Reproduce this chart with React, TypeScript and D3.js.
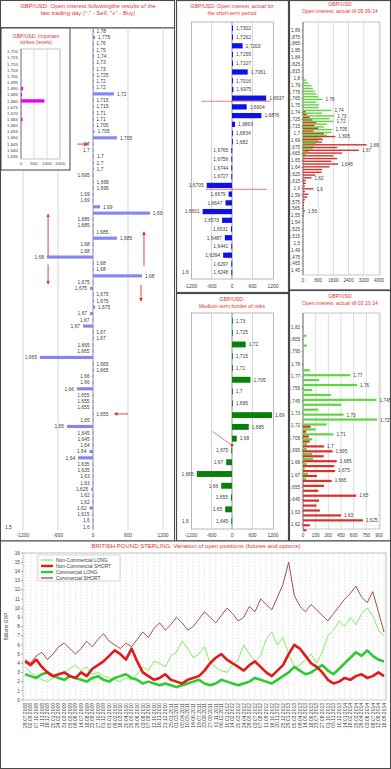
import React from 'react';
import * as d3 from 'd3';

const FONT = "'Liberation Sans', Arial, sans-serif";
const TITLE_RED = '#e2352e';
const TXT = '#3c3c3c';
const GRID = '#cdcdcd';
const FRAME = '#4a4a4a';

// ---------------- Left panel: open interest after last trading day ----------------
const leftLabels = ['1,78','1,775','1,76','1,75','1,74','1,73','1,73','1,725','1,72','1,72','1,72','1,715','1,715','1,71','1,71','1,705','1,705','1,705','1,7','1,7','1,7','1,7','1,7','1,695','1,695','1,695','1,69','1,69','1,69','1,69','1,685','1,685','1,685','1,685','1,68','1,68','1,68','1,68','1,68','1,68','1,675','1,675','1,675','1,675','1,675','1,67','1,67','1,67','1,67','1,67','1,665','1,665','1,665','1,665','1,665','1,66','1,66','1,66','1,655','1,655','1,655','1,655','1,65','1,65','1,645','1,645','1,64','1,64','1,64','1,635','1,635','1,63','1,63','1,625','1,62','1,62','1,62','1,615','1,6','1,6'];
const leftValues = [8,35,5,5,15,5,5,5,5,5,360,5,5,5,5,5,25,410,-5,-5,15,10,10,-5,10,10,-5,-5,120,977,-5,-5,5,410,-5,-5,-790,5,5,840,-5,-50,5,5,35,-50,-10,-170,5,5,-5,-10,-910,5,5,-5,-5,-275,-10,-10,-10,5,-5,-445,-5,-5,-5,-60,-255,-10,-5,-5,-5,-30,-5,-5,-60,-10,-5,-5];
const leftTicks = [-1200, -600, 0, 600, 1200];
const leftAxisLabel = '1,5';

// inset: important strikes
const insetLabels = ['1,720','1,715','1,710','1,705','1,700','1,695','1,690','1,685','1,680','1,675','1,670','1,665','1,660','1,655','1,650','1,645','1,640','1,635'];
const insetValues = [0,0,0,0,0,0,80,40,900,15,15,60,0,0,0,0,0,0];
const insetTicks = [0, 500, 1000, 1500];

// ---------------- Middle top: short-term period ----------------
const midTopLabels = ['1,7302','1,7262','1,7203','1,7155','1,7107','1,7061','1,7016','1,6975','1,6937','1,6904','1,6876','1,6863','1,6834','1,682','1,6765','1,6756','1,6744','1,6727','1,6705','1,6679','1,6647','1,6601','1,6573','1,6531','1,6487','1,6441','1,6394','1,6297','1,6248'];
const midTopValues = [30,30,310,30,30,460,30,40,1000,430,860,90,20,20,-20,-20,-20,-20,-740,-100,-190,-860,-290,-30,-210,-20,-260,-20,-20];
const midTicks = [-1200, -600, 0, 600, 1200];

// ---------------- Middle bottom: medium-term border of risks ----------------
const midBotLabels = ['1,73','1,725','1,72','1,715','1,71','1,705','1,7','1,695','1,69','1,685','1,68','1,675','1,67','1,665','1,66','1,655','1,65','1,645'];
const midBotValues = [20,20,400,20,20,540,20,20,1170,490,140,-20,-170,-1030,-315,-30,-200,-20];

// ---------------- Right top: open interest till 05.09.14 ----------------
const rtPrices = [1.800,1.795,1.790,1.785,1.780,1.775,1.770,1.765,1.760,1.755,1.750,1.745,1.740,1.735,1.730,1.725,1.720,1.715,1.710,1.705,1.700,1.695,1.690,1.685,1.680,1.675,1.670,1.665,1.660,1.655,1.650,1.645,1.640,1.635,1.630,1.625,1.620,1.615,1.610,1.605,1.600,1.595,1.590,1.585,1.580,1.575,1.570,1.565,1.560,1.555,1.550];
const rtCalls = [60,180,270,450,530,620,700,800,1030,700,850,800,1500,1000,1650,1400,1600,1250,1100,1550,1500,1250,950,800,700,600,500,300,150,80,50,30,0,0,0,0,0,0,0,0,0,0,0,0,0,0,0,0,0,0,0];
const rtPuts = [0,0,0,0,0,0,0,0,0,0,0,0,150,200,350,500,700,600,800,550,1100,1700,1050,1000,3350,1800,2950,2050,1600,1800,1500,1850,1400,1000,980,650,450,150,150,100,550,100,280,220,100,60,50,40,100,30,30];
const rtLabeledCalls = [1.76, 1.74, 1.73, 1.72, 1.705];
const rtLabeledPuts = [1.695, 1.68, 1.67, 1.645, 1.62, 1.6, 1.56];
const rtTickValues = [1.8875,1.875,1.8625,1.85,1.8375,1.825,1.8125,1.8,1.7875,1.775,1.7625,1.75,1.7375,1.725,1.7125,1.7,1.6875,1.675,1.6625,1.65,1.6375,1.625,1.6125,1.6,1.5875,1.575,1.5625,1.55,1.5375,1.525,1.5125,1.5,1.4875,1.475,1.4625,1.45];
const rtTickLabels = ['1,89','1,875','1,865','1,85','1,84','1,825','1,815','1,8','1,79','1,775','1,765','1,75','1,74','1,725','1,715','1,7','1,69','1,675','1,665','1,65','1,64','1,625','1,615','1,6','1,59','1,575','1,565','1,55','1,54','1,525','1,515','1,5','1,49','1,475','1,465','1,45'];
const rtXTicks = [0, 800, 1600, 2400, 3200, 4000];

// ---------------- Right bottom: open interest till 03.10.14 ----------------
const rbPrices = [1.825,1.820,1.815,1.810,1.805,1.800,1.795,1.790,1.785,1.780,1.775,1.770,1.765,1.760,1.755,1.750,1.745,1.740,1.735,1.730,1.725,1.720,1.715,1.710,1.705,1.700,1.695,1.690,1.685,1.680,1.675,1.670,1.665,1.660,1.655,1.650,1.645,1.640,1.635,1.630,1.625,1.620,1.615];
const rbCalls = [0,0,0,40,0,45,0,10,0,10,80,560,190,640,110,330,870,450,180,480,880,280,150,360,110,50,45,110,120,45,20,60,40,10,0,0,0,0,0,0,0,0,0];
const rbPuts = [0,0,0,0,0,0,0,0,0,0,0,0,0,0,0,0,0,0,0,0,0,90,40,68,80,250,350,245,400,370,380,165,340,250,180,630,190,160,200,450,710,80,40];
const rbLabeledCalls = [1.77, 1.76, 1.745, 1.73, 1.725, 1.71];
const rbLabeledPuts = [1.7, 1.695, 1.685, 1.675, 1.665, 1.65, 1.63, 1.625];
const rbTickValues = [1.82,1.8075,1.795,1.7825,1.77,1.7575,1.745,1.7325,1.72,1.7075,1.695,1.6825,1.67,1.6575,1.645,1.6325,1.62];
const rbTickLabels = ['1,82','1,805','1,795','1,78','1,77','1,755','1,745','1,73','1,72','1,705','1,695','1,68','1,67','1,655','1,645','1,63','1,62'];
const rbXTicks = [0, 150, 300, 450, 600, 750, 900];

// ---------------- Bottom: COT positions ----------------
const cotDates = ['29.07.2008','02.09.2008','07.10.2008','11.11.2008','16.12.2008','20.01.2009','24.02.2009','31.03.2009','05.05.2009','09.06.2009','14.07.2009','18.08.2009','22.09.2009','27.10.2009','01.12.2009','05.01.2010','09.02.2010','16.03.2010','20.04.2010','25.05.2010','29.06.2010','03.08.2010','07.09.2010','12.10.2010','16.11.2010','21.12.2010','25.01.2011','01.03.2011','05.04.2011','10.05.2011','14.06.2011','19.07.2011','23.08.2011','27.09.2011','01.11.2011','06.12.2011','10.01.2012','14.02.2012','20.03.2012','24.04.2012','29.05.2012','03.07.2012','07.08.2012','11.09.2012','16.10.2012','20.11.2012','25.12.2012','29.01.2013','05.03.2013','09.04.2013','14.05.2013','18.06.2013','23.07.2013','27.08.2013','01.10.2013','05.11.2013','10.12.2013','14.01.2014','18.02.2014','25.03.2014','29.04.2014','03.06.2014','08.07.2014','12.08.2014','16.09.2014'];
const ncLong = [3.6,3.0,2.6,2.2,2.0,2.4,2.8,3.0,3.4,3.8,3.2,3.6,2.8,3.0,2.6,2.4,2.2,2.0,2.4,2.2,2.8,3.6,3.2,4.2,4.0,3.6,4.8,5.2,6.4,5.6,4.6,5.0,5.8,4.0,3.6,3.2,3.0,3.8,4.4,6.0,5.0,4.2,4.8,6.6,7.4,6.0,6.8,5.0,3.6,3.8,4.4,5.0,4.0,5.2,7.0,7.6,8.6,8.0,9.0,8.2,9.4,10.0,9.2,7.6,7.0];
const ncShort = [4.2,3.8,4.4,3.6,3.0,2.6,2.8,3.0,2.6,2.4,3.0,2.6,3.4,3.8,4.2,4.8,5.4,5.0,4.4,5.6,4.2,3.0,2.6,2.2,2.4,2.8,2.2,2.0,1.8,2.2,2.4,2.6,3.2,4.0,4.6,5.0,4.4,4.0,3.6,3.2,3.8,4.2,3.6,3.0,2.6,3.2,3.8,5.0,6.0,5.6,4.8,4.0,3.6,3.0,2.2,1.8,2.0,2.4,2.2,2.6,2.8,2.4,2.6,3.0,2.6];
const cLong = [2.8,2.6,2.4,2.8,3.0,2.6,2.4,2.2,2.6,2.4,2.2,2.0,2.4,2.6,2.2,2.0,2.4,2.6,2.8,2.4,2.2,1.8,2.0,1.8,1.6,1.8,1.6,1.4,1.6,1.8,2.0,2.2,1.8,1.6,1.8,2.2,2.0,1.8,1.6,1.8,2.0,2.4,2.2,2.0,1.8,2.2,2.6,3.0,3.6,3.2,2.8,3.0,3.4,3.8,3.2,2.8,3.4,4.0,4.6,5.2,4.8,5.4,4.8,4.4,4.2];
const cShort = [4.4,4.0,4.8,5.2,4.4,5.0,5.8,6.2,5.6,5.0,5.6,6.4,5.8,6.6,7.2,6.4,6.0,5.6,6.2,5.8,6.6,7.4,6.8,7.8,8.4,7.6,8.2,9.0,8.4,7.6,8.0,8.8,9.6,9.0,8.4,9.2,10.0,9.4,8.6,9.0,10.2,9.6,11.0,10.4,9.8,11.2,12.6,15.0,11.4,10.2,9.6,10.4,9.8,9.2,8.6,9.4,10.2,11.0,11.6,12.4,11.2,10.6,11.8,9.6,7.4];
const cotYTicks = [0,1,2,3,4,5,6,7,8,9,10,11,12,13,14,15,16];
const cotSeriesNames = ['Non-Commercial LONG','Non-Commercial SHORT','Commercial LONG','Commercial SHORT'];

const PANEL_BOTTOM = 541;

const fmtPrice = (p: number) => String(+p.toFixed(4)).replace('.', ',');

function Defs() {
  return (
    <defs>
      <marker id="arrRed" viewBox="0 0 6 6" refX="5" refY="3" markerWidth="4" markerHeight="4" orient="auto">
        <path d="M0,0 L6,3 L0,6 z" fill="#d8322c" />
      </marker>
      <clipPath id="clipMid"><rect x={177} y={0} width={111} height={PANEL_BOTTOM} /></clipPath>
      <clipPath id="clipRight"><rect x={290.5} y={0} width={101} height={PANEL_BOTTOM} /></clipPath>
    </defs>
  );
}

function LeftPanel() {
  const top = 28, bottom = 530;
  const x = d3.scaleLinear().domain([-1200, 1200]).range([23, 163]);
  const y = d3.scaleBand<number>().domain(d3.range(leftLabels.length)).range([top, bottom]).paddingInner(0.5).paddingOuter(0.25);
  const bw = y.bandwidth();
  const cy = (i: number) => (y(i) as number) + bw / 2;
  const step = y.step();
  const rowY = (r: number) => cy(0) + r * step;
  const arrows = [
    { v1: -770, r1: 35.8, v2: -770, r2: 29.2 },
    { v1: -770, r1: 37.2, v2: -770, r2: 40.3 },
    { v1: 874, r1: 37.4, v2: 874, r2: 32.0 },
    { v1: 823, r1: 40.4, v2: 823, r2: 43.0 },
    { v1: -270, r1: 18, v2: -80, r2: 18 },
    { v1: 600, r1: 61, v2: 370, r2: 61 },
  ];
  return (
    <g>
      <rect x={0.5} y={0.5} width={174} height={27.5} fill="#fff" stroke={FRAME} />
      <rect x={0.5} y={28} width={174} height={PANEL_BOTTOM - 28} fill="#fff" stroke={FRAME} />
      <text x={88} y={8} textAnchor="middle" fontSize={6} fill={TITLE_RED}>GBP/USD: Open interest followingthe results of the</text>
      <text x={88} y={15} textAnchor="middle" fontSize={6} fill={TITLE_RED}>last trading day ("-" - Sell; "+" - Buy)</text>
      {leftTicks.filter(t => t !== 0).map(t => (
        <line key={t} x1={x(t)} x2={x(t)} y1={top} y2={bottom} stroke={GRID} strokeWidth={0.8} />
      ))}
      <line x1={x(0)} x2={x(0)} y1={top} y2={bottom} stroke="#7a7a7a" strokeWidth={0.8} />
      {leftValues.map((v, i) => (
        <rect key={i} x={Math.min(x(0), x(v))} y={y(i)} width={Math.max(0.8, Math.abs(x(v) - x(0)))} height={bw} fill="#8585f5" />
      ))}
      {leftLabels.map((l, i) => {
        const v = leftValues[i];
        const pos = v >= 0;
        return (
          <text key={i} x={pos ? x(v) + 3 : x(v) - 3} y={cy(i) + 1.8} fontSize={4.9} fill={TXT} textAnchor={pos ? 'start' : 'end'}>{l}</text>
        );
      })}
      <text x={5} y={cy(leftLabels.length - 1) + 1.8} fontSize={4.9} fill={TXT}>{leftAxisLabel}</text>
      {leftTicks.map(t => (
        <text key={t} x={x(t)} y={536.5} textAnchor="middle" fontSize={4.9} fill={TXT}>{t}</text>
      ))}
      {arrows.map((a, i) => (
        <line key={i} x1={x(a.v1)} y1={rowY(a.r1)} x2={x(a.v2)} y2={rowY(a.r2)} stroke="#d8322c" strokeWidth={0.9} markerEnd="url(#arrRed)" />
      ))}
    </g>
  );
}

function Inset() {
  const x = d3.scaleLinear().domain([0, 1500]).range([21, 60]);
  const y = d3.scaleBand<number>().domain(d3.range(insetLabels.length)).range([50, 158]).paddingInner(0.45);
  const bw = y.bandwidth();
  return (
    <g>
      <rect x={1} y={28} width={69} height={142} fill="#fff" stroke="#333" strokeWidth={0.9} />
      <text x={36} y={37.5} textAnchor="middle" fontSize={5} fill={TITLE_RED}>GBP/USD: Important</text>
      <text x={36} y={43.5} textAnchor="middle" fontSize={5} fill={TITLE_RED}>strikes (levels)</text>
      <rect x={21} y={49} width={39} height={110} fill="none" stroke="#999" strokeWidth={0.6} />
      {insetTicks.slice(1).map(t => (
        <line key={t} x1={x(t)} x2={x(t)} y1={49} y2={159} stroke={GRID} strokeWidth={0.7} />
      ))}
      <line x1={x(0)} x2={x(0)} y1={49} y2={159} stroke="#666" strokeWidth={0.7} />
      {insetValues.map((v, i) => (
        v > 0 ? <rect key={i} x={x(0)} y={y(i)} width={x(v) - x(0)} height={bw} fill="#f000f0" /> : null
      ))}
      {insetLabels.map((l, i) => (
        <text key={i} x={18} y={(y(i) as number) + bw / 2 + 1.6} fontSize={4.4} fill={TXT} textAnchor="end">{l}</text>
      ))}
      {insetTicks.map(t => (
        <text key={t} x={x(t)} y={165} fontSize={4.4} fill={TXT} textAnchor="middle">{t}</text>
      ))}
    </g>
  );
}

function HBarPanel(props: { labels: string[]; values: number[]; top: number; bottom: number; color: string; tickY: number; axisLabel: string; pad: number }) {
  const { labels, values, top, bottom, color, tickY, axisLabel, pad } = props;
  const x = d3.scaleLinear().domain([-1200, 1200]).range([191, 273]);
  const y = d3.scaleBand<number>().domain(d3.range(labels.length)).range([top + 2, bottom - 2]).paddingInner(pad).paddingOuter(pad / 2);
  const bw = y.bandwidth();
  const cy = (i: number) => (y(i) as number) + bw / 2;
  return (
    <g>
      <rect x={191.5} y={top} width={82} height={bottom - top} fill="none" stroke="#9a9a9a" strokeWidth={0.7} />
      {midTicks.filter(t => Math.abs(t) === 600).map(t => (
        <line key={t} x1={x(t)} x2={x(t)} y1={top} y2={bottom} stroke={GRID} strokeWidth={0.8} />
      ))}
      <line x1={x(0)} x2={x(0)} y1={top} y2={bottom} stroke="#777" strokeWidth={0.8} />
      {values.map((v, i) => (
        <rect key={i} x={Math.min(x(0), x(v))} y={y(i)} width={Math.max(0.9, Math.abs(x(v) - x(0)))} height={bw} fill={color} />
      ))}
      <g clipPath="url(#clipMid)">
        {labels.map((l, i) => {
          const v = values[i];
          const pos = v >= 0;
          return <text key={i} x={pos ? x(v) + 3 : x(v) - 3} y={cy(i) + 1.8} fontSize={4.9} fill={TXT} textAnchor={pos ? 'start' : 'end'}>{l}</text>;
        })}
      </g>
      <text x={182} y={cy(labels.length - 1) + 1.8} fontSize={4.9} fill={TXT}>{axisLabel}</text>
      {midTicks.map(t => (
        <text key={t} x={x(t)} y={tickY} textAnchor="middle" fontSize={4.9} fill={TXT}>{t}</text>
      ))}
    </g>
  );
}

function MiddleColumn() {
  const xs = d3.scaleLinear().domain([-1200, 1200]).range([191, 273]);
  const yTop = d3.scaleLinear().domain([0, midTopLabels.length - 1]).range([28.4, 272.6]);
  const yBot = d3.scaleLinear().domain([0, midBotLabels.length - 1]).range([320.5, 523.5]);
  return (
    <g>
      <rect x={176.5} y={0.5} width={112} height={292} fill="#fff" stroke={FRAME} strokeWidth={1.2} />
      <rect x={176.5} y={293.5} width={112} height={PANEL_BOTTOM - 293.5} fill="#fff" stroke={FRAME} strokeWidth={1.2} />
      <text x={232} y={8} textAnchor="middle" fontSize={5.3} fill={TITLE_RED}>GBP/USD: Open interest, actual for</text>
      <text x={232} y={14.5} textAnchor="middle" fontSize={5.3} fill={TITLE_RED}>the short-term period</text>
      <HBarPanel labels={midTopLabels} values={midTopValues} top={22} bottom={279} color="#1010e8" tickY={288} axisLabel="1,6" pad={0.4} />
      <text x={232} y={301} textAnchor="middle" fontSize={5.3} fill={TITLE_RED}>GBP/USD:</text>
      <text x={232} y={307.5} textAnchor="middle" fontSize={5.3} fill={TITLE_RED}>Medium-term border of risks</text>
      <HBarPanel labels={midBotLabels} values={midBotValues} top={313} bottom={529} color="#0a800a" tickY={536.5} axisLabel="1,6" pad={0.5} />
      <line x1={xs(-900)} x2={xs(1130)} y1={yTop(8.35)} y2={yTop(8.35)} stroke="#d8605a" strokeWidth={0.8} />
      <line x1={xs(-760)} x2={xs(1020)} y1={yTop(18.45)} y2={yTop(18.45)} stroke="#d8605a" strokeWidth={0.8} />
      <line x1={xs(-570)} x2={xs(0)} y1={yBot(9.3)} y2={yBot(10.45)} stroke="#d8605a" strokeWidth={0.8} />
      <circle cx={xs(0)} cy={yBot(10.45)} r={1.3} fill="#e02020" />
    </g>
  );
}

function OIPanel(props: { prices: number[]; calls: number[]; puts: number[]; labeledCalls: number[]; labeledPuts: number[]; tickValues: number[]; tickLabels: string[]; xTicks: number[]; xMax: number; yDomain: [number, number]; yRange: [number, number]; plotTop: number; plotBottom: number; xTickY: number; barH: number; title2: string; titleY: number; frameTop: number; frameH: number }) {
  const p = props;
  const x = d3.scaleLinear().domain([0, p.xMax]).range([303, 379]);
  const y = d3.scaleLinear().domain(p.yDomain).range(p.yRange);
  const green = '#5fd63f';
  const red = '#d8302a';
  const hb = p.barH;
  return (
    <g>
      <rect x={289.5} y={p.frameTop} width={101} height={p.frameH} fill="#fff" stroke={FRAME} strokeWidth={1.2} />
      <text x={340} y={p.titleY} textAnchor="middle" fontSize={5.2} fill={TITLE_RED}>GBP/USD</text>
      <text x={340} y={p.titleY + 6.5} textAnchor="middle" fontSize={5.2} fill={TITLE_RED}>{p.title2}</text>
      <rect x={303} y={p.plotTop} width={77} height={p.plotBottom - p.plotTop} fill="none" stroke="#a0a0a0" strokeWidth={0.6} />
      {p.xTicks.slice(1).map(t => (
        <line key={t} x1={x(t)} x2={x(t)} y1={p.plotTop} y2={p.plotBottom} stroke={GRID} strokeWidth={0.7} />
      ))}
      <line x1={x(0)} x2={x(0)} y1={p.plotTop} y2={p.plotBottom} stroke="#666" strokeWidth={0.8} />
      {p.tickValues.map((t, i) => (
        <line key={i} x1={x(0) - 1.5} x2={x(0)} y1={y(t)} y2={y(t)} stroke="#666" strokeWidth={0.6} />
      ))}
      {p.prices.map((pr, i) => (
        <g key={i}>
          {p.calls[i] > 0 && <rect x={x(0)} y={y(pr) - hb} width={x(p.calls[i]) - x(0)} height={hb} fill={green} />}
          {p.puts[i] > 0 && <rect x={x(0)} y={y(pr)} width={x(p.puts[i]) - x(0)} height={hb} fill={red} />}
        </g>
      ))}
      {p.labeledCalls.map(pr => {
        const i = p.prices.findIndex(q => Math.abs(q - pr) < 1e-6);
        return <text key={'c' + pr} x={x(p.calls[i]) + 3} y={y(pr) + 1} fontSize={4.7} fill={TXT}>{fmtPrice(pr)}</text>;
      })}
      {p.labeledPuts.map(pr => {
        const i = p.prices.findIndex(q => Math.abs(q - pr) < 1e-6);
        return <text key={'p' + pr} x={x(p.puts[i]) + 3} y={y(pr) + 2.5} fontSize={4.7} fill={TXT}>{fmtPrice(pr)}</text>;
      })}
      <g clipPath="url(#clipRight)">
        {p.tickLabels.map((l, i) => (
          <text key={i} x={300} y={y(p.tickValues[i]) + 1.7} fontSize={4.6} fill={TXT} textAnchor="end">{l}</text>
        ))}
      </g>
      {p.xTicks.map(t => (
        <text key={t} x={x(t)} y={p.xTickY} fontSize={4.6} fill={TXT} textAnchor="middle">{t}</text>
      ))}
    </g>
  );
}

function CotChart() {
  const top = PANEL_BOTTOM;
  const x0 = 23, x1 = 386, y0 = 553, y1 = 700;
  const x = d3.scalePoint<string>().domain(cotDates).range([x0 + 2, x1 - 2]);
  const y = d3.scaleLinear().domain([0, 16]).range([y1, y0]);
  const line = d3.line<number>().x((_, i) => x(cotDates[i]) as number).y(d => y(d));
  const series = [
    { data: ncLong, color: '#6cf24a', w: 0.9 },
    { data: cShort, color: '#9b3b2e', w: 0.9 },
    { data: cLong, color: '#2ecb2e', w: 2.6 },
    { data: ncShort, color: '#e31a1a', w: 2.6 },
  ];
  const legend = [
    { name: cotSeriesNames[0], color: '#6cf24a', w: 1.2 },
    { name: cotSeriesNames[1], color: '#e31a1a', w: 2.4 },
    { name: cotSeriesNames[2], color: '#2ecb2e', w: 2.4 },
    { name: cotSeriesNames[3], color: '#9b3b2e', w: 1.2 },
  ];
  return (
    <g>
      <rect x={0.5} y={top} width={390} height={769 - top - 0.5} fill="#fff" stroke={FRAME} />
      <text x={196} y={548} textAnchor="middle" fontSize={6} fill={TITLE_RED}>BRITISH POUND STERLING: Variation of open positions (futures and options)</text>
      <rect x={x0} y={y0} width={x1 - x0} height={y1 - y0} fill="#fff" stroke="#999" strokeWidth={0.6} />
      {cotDates.map(d => (
        <line key={d} x1={x(d)} x2={x(d)} y1={y0} y2={y1} stroke="#c4c4c4" strokeWidth={0.5} strokeDasharray="1.5,1.5" />
      ))}
      {cotYTicks.map(t => (
        <g key={t}>
          <line x1={x0 - 2} x2={x0} y1={y(t)} y2={y(t)} stroke="#777" strokeWidth={0.6} />
          <text x={x0 - 3} y={y(t) + 1.7} fontSize={4.8} fill={TXT} textAnchor="end">{t}</text>
        </g>
      ))}
      <text transform={`translate(8,${(y0 + y1) / 2}) rotate(-90)`} textAnchor="middle" fontSize={5} fill={TXT}>Billions GBP</text>
      {series.map((s, i) => (
        <path key={i} d={line(s.data) || ''} fill="none" stroke={s.color} strokeWidth={s.w} strokeLinejoin="round" />
      ))}
      <rect x={38} y={555} width={82} height={26} fill="#fff" stroke="#aaa" strokeWidth={0.5} />
      {legend.map((l, i) => (
        <g key={i}>
          <line x1={41} x2={53} y1={560 + i * 6} y2={560 + i * 6} stroke={l.color} strokeWidth={l.w} />
          <text x={56} y={562 + i * 6} fontSize={4.9} fill={TXT}>{l.name}</text>
        </g>
      ))}
      {cotDates.map(d => (
        <text key={d} transform={`translate(${(x(d) as number) + 1.8},${y1 + 3}) rotate(-90)`} textAnchor="end" fontSize={5} fill={TXT}>{d}</text>
      ))}
    </g>
  );
}

export default function App() {
  return (
    <svg width={391} height={769} viewBox="0 0 391 769" style={{ position: 'absolute', left: 0, top: 0, background: '#fff' }} fontFamily={FONT}>
      <Defs />
      <rect width={391} height={769} fill="#fff" />
      <LeftPanel />
      <Inset />
      <MiddleColumn />
      <OIPanel prices={rtPrices} calls={rtCalls} puts={rtPuts} labeledCalls={rtLabeledCalls} labeledPuts={rtLabeledPuts}
        tickValues={rtTickValues} tickLabels={rtTickLabels} xTicks={rtXTicks} xMax={4000}
        yDomain={[1.8875, 1.45]} yRange={[30, 270.6]} plotTop={22} plotBottom={275} xTickY={282}
        barH={1.4} title2="Open interest, actual till 05.09.14" titleY={6} frameTop={0.5} frameH={289.5} />
      <OIPanel prices={rbPrices} calls={rbCalls} puts={rbPuts} labeledCalls={rbLabeledCalls} labeledPuts={rbLabeledPuts}
        tickValues={rbTickValues} tickLabels={rbTickLabels} xTicks={rbXTicks} xMax={900}
        yDomain={[1.82, 1.62]} yRange={[327, 524.2]} plotTop={313} plotBottom={529} xTickY={536.5}
        barH={2.2} title2="Open interest, actual till 03.10.14" titleY={298} frameTop={290.5} frameH={PANEL_BOTTOM - 290.5} />
      <CotChart />
    </svg>
  );
}
